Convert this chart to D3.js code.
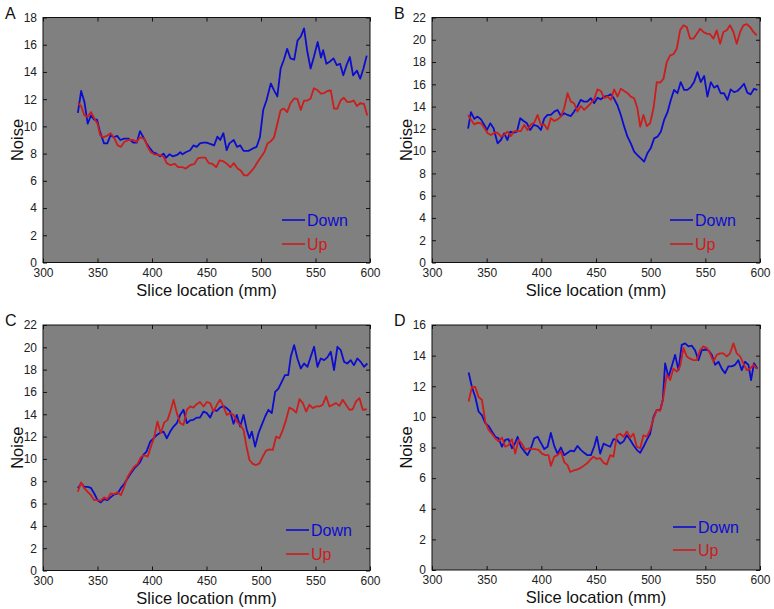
<!DOCTYPE html>
<html><head><meta charset="utf-8">
<script src="https://cdn.jsdelivr.net/npm/d3@7"></script>
<style>body{margin:0;background:#fff}svg{display:block}</style></head>
<body><svg id="c" width="774" height="609"></svg>
<script>
const aDown=[[332,11.0],[335,12.6],[338,11.8],[341,10.2],[344,10.8],[347,10.5],[349.5,10.5],[352,9.7],[354,9.2],[356,8.75],[359,8.75],[362,9.35],[365,9.2],[368,9.3],[371,9.0],[374.5,9.1],[378.5,9.1],[383,8.8],[386,8.8],[389,9.65],[392,9.2],[395,8.75],[398,8.4],[401,8.1],[404,8.0],[407.5,7.8],[410.5,8.0],[413,7.7],[416,7.95],[419,7.8],[423,7.9],[426,8.1],[428,7.95],[431,8.1],[435,8.25],[438,8.6],[441,8.5],[444,8.75],[447,8.8],[450,8.8],[454,8.7],[457,8.6],[460,9.25],[462.5,9.0],[465.5,9.5],[468.5,8.25],[471,8.75],[475,9.0],[478,8.5],[481,8.6],[484,8.2],[488.5,8.2],[493,8.4],[496,8.5],[499,9.2],[502,11.2],[505,11.9],[509,13.15],[512,12.65],[515,12.2],[518,14.25],[521,14.9],[524,15.7],[527,15.0],[530.5,14.9],[533.5,16.3],[536.5,16.6],[539.5,17.2],[542.5,15.5],[545.5,14.25],[548.5,15.1],[552,16.2],[555,15.05],[557,15.6],[560,14.6],[563,14.75],[566.5,15.0],[569.5,14.5],[572.5,14.6],[575.5,13.75],[578.5,14.5],[581.5,15.1],[584.5,13.75],[588,14.1],[591,13.5],[594,14.25],[597,15.2]];
const aUp=[[332,11.7],[335,11.5],[338,10.8],[341,10.7],[344,11.05],[347,10.6],[350,10.2],[352.5,9.35],[355,9.2],[358.5,9.3],[362,9.5],[365,9.2],[368.5,8.6],[371.5,8.5],[374.5,8.85],[378.5,9.0],[383,9.0],[386,8.85],[389,9.2],[393,9.1],[396,8.5],[399,8.1],[402,7.95],[406,7.9],[410.5,7.8],[413.5,7.3],[417,7.15],[421,7.25],[424,7.0],[428,7.0],[431,6.9],[435,7.15],[439,7.25],[442,7.65],[445,7.7],[449,7.7],[452,7.3],[455.5,7.25],[459,7.0],[462,7.5],[465,7.45],[468,7.3],[472,7.0],[475,7.3],[478.5,6.9],[481.5,6.75],[484.5,6.4],[487.5,6.4],[490.5,6.65],[494,7.0],[497,7.4],[500,7.75],[503,8.1],[506,8.75],[509,8.9],[512,9.2],[515,10.2],[518,11.2],[521,11.3],[524,11.05],[527,11.7],[530.5,12.05],[533.5,12.0],[536.5,11.2],[539.5,11.9],[542.5,11.9],[545.5,12.05],[548.5,12.8],[552,12.65],[555,12.4],[558,12.45],[561,12.6],[564,12.65],[567,11.3],[570,11.3],[573,11.9],[576,12.1],[579,11.8],[582,11.8],[585,11.9],[588,11.5],[591,11.7],[594.5,11.65],[597.5,10.8]];
const bDown=[[333,12.03],[335.6,13.5],[338.7,12.9],[341.7,13.1],[344.8,12.85],[347.8,12.35],[350.3,11.9],[353.3,12.5],[356.3,12.05],[360,10.7],[363,11.0],[366,11.6],[369,11.0],[371.6,11.75],[374.6,11.65],[377.7,11.75],[380.7,12.95],[383.8,12.7],[386.8,12.5],[389.9,11.9],[392.9,12.35],[396.6,12.25],[399.6,11.9],[402.7,12.95],[405.7,13.25],[408.7,13.25],[411.8,13.55],[414.8,13.7],[417.9,13.15],[420.9,13.4],[424,13.25],[427,13.15],[430,13.55],[433,14.0],[436,14.6],[439,14.45],[442,14.45],[445.3,14.75],[448.3,14.3],[451.4,14.8],[454.4,14.65],[457.5,14.9],[460.5,14.95],[463.6,15.1],[466.6,14.7],[469.7,14.1],[472.7,13.25],[475.8,12.2],[478.8,11.3],[481.8,10.7],[484.9,9.95],[487.9,9.65],[491,9.35],[494,9.05],[497,9.8],[500,10.25],[503.2,11.15],[506.2,11.3],[509.3,11.75],[512.3,12.8],[515.4,13.5],[518.4,14.6],[521.4,15.5],[524.5,15.2],[527.5,16.2],[530.6,15.5],[533.6,15.5],[536.7,15.75],[539.7,16.2],[542.8,17.1],[545.8,16.2],[548.9,16.75],[551.9,14.9],[555,16.2],[558,15.7],[561,15.9],[564,15.2],[567.1,15.2],[570.2,14.6],[573.2,15.55],[576.3,15.3],[579.3,15.4],[582.4,15.7],[585.4,16.05],[588.4,15.25],[591.5,15.1],[594.5,15.6],[597.6,15.5]];
const bUp=[[333,13.25],[335.6,12.85],[338.7,12.4],[341.7,12.55],[344.8,12.5],[347.8,12.1],[350.9,11.6],[353.9,11.45],[357,11.65],[360,11.65],[363,11.3],[366,11.45],[369,11.75],[372.2,11.35],[375.2,11.8],[378.3,11.8],[381.3,11.8],[384.4,12.35],[387.4,11.9],[390.5,12.4],[393.5,12.55],[396.6,13.25],[399.6,12.35],[402.7,12.4],[405.7,11.95],[408.7,12.95],[411.8,12.7],[414.8,12.85],[417.9,13.1],[420.9,13.85],[424,15.2],[427,14.45],[430,14.3],[433,13.55],[436.1,14.05],[439.2,13.7],[442.2,14.0],[445.3,14.3],[448.3,14.65],[451.4,15.55],[454.4,15.4],[457.5,14.75],[460.5,14.9],[463.6,14.6],[466.6,15.55],[469.7,14.9],[472.7,15.6],[475.8,15.4],[478.8,15.2],[481.8,14.9],[484.9,14.75],[487.9,13.85],[490.4,12.2],[493.4,13.25],[496.5,12.25],[499.5,12.5],[502.6,13.85],[505.6,16.2],[508.7,16.15],[511.7,16.5],[514.7,18.0],[517.8,18.6],[520.8,18.7],[523.9,19.2],[526.9,20.85],[530,21.3],[533,21.15],[536.1,20.1],[539.1,20.1],[542.2,20.55],[545.2,21.0],[548.2,20.7],[551.3,20.55],[554.3,20.5],[557.4,20.1],[560.4,20.85],[563.5,19.65],[566.5,20.7],[569.6,20.85],[572.6,21.3],[575.7,20.7],[578.7,19.65],[581.8,20.7],[584.8,21.3],[587.9,21.4],[590.9,21.15],[594,20.7],[597,20.4]];
const cDown=[[332,7.37],[335,7.8],[338,7.5],[341,7.5],[344,7.4],[347,6.9],[350,6.3],[353,6.1],[356,6.4],[359,6.3],[362,6.55],[365,6.8],[368.5,6.9],[371.5,7.4],[374.5,7.75],[377.5,8.25],[380.5,8.7],[383.7,9.15],[386.8,9.45],[389,9.7],[392,10.35],[395,10.65],[398.4,11.55],[401.4,11.85],[404.5,12.15],[407.5,12.35],[410.6,12.45],[413.6,11.85],[416.7,12.45],[419.8,12.9],[422.8,13.2],[425.9,13.95],[428.9,14.4],[432,13.2],[435,13.45],[438,13.5],[441,13.7],[444,13.7],[447.3,14.25],[450.3,14.1],[453.4,13.7],[456.4,14.4],[459.5,14.3],[462.5,14.6],[465.6,14.75],[468.6,14.55],[471.7,14.25],[474.8,13.15],[477.8,13.95],[480.9,12.9],[484,13.95],[487,12.6],[489.4,11.85],[491.6,12.45],[494.6,11.1],[497.7,12.3],[500.7,13.05],[503.8,13.8],[506.8,14.4],[509.9,14.1],[513,16.0],[516,16.3],[519,16.9],[522,17.5],[525,17.5],[527.3,19.15],[530.4,20.2],[533.4,19.0],[536.5,18.1],[539.5,18.55],[542.6,18.25],[545.6,19.15],[548.7,20.05],[551.8,18.25],[554.8,19.0],[557.9,18.85],[560.9,19.1],[564,19.6],[567,17.95],[570.1,20.05],[573.1,19.75],[576.2,18.7],[579.2,18.55],[582.3,18.85],[585.3,18.4],[588.4,19.0],[591.4,18.7],[594.5,18.25],[597.6,18.55]];
const cUp=[[332,7.05],[335,7.9],[338,7.35],[341,7.05],[344,6.75],[347,6.3],[350,6.3],[353,6.25],[356,6.55],[359,6.4],[362,6.9],[365,6.85],[368.5,7.0],[371.5,6.75],[374.5,7.5],[377.5,8.35],[380.5,8.85],[383.7,9.3],[386.8,9.55],[389.8,10.15],[392.9,10.35],[396,10.2],[399,11.1],[402,11.95],[405,13.35],[408,12.3],[411.2,13.25],[414.3,13.5],[417.3,14.4],[419.8,15.3],[422.8,14.1],[425.9,13.2],[428.9,13.05],[432,14.4],[435,14.7],[438,14.6],[441,14.9],[444,15.1],[447.3,14.7],[450.3,15.1],[453.4,15.0],[456.4,14.25],[459.5,14.85],[462.5,15.3],[465.6,14.7],[468.6,13.95],[471.7,14.1],[474.8,13.95],[477.8,13.35],[480.9,13.05],[484,12.6],[486.4,11.25],[489.4,9.9],[492.5,9.55],[495.5,9.45],[498.6,9.6],[501.6,10.2],[504.7,10.75],[507.8,10.85],[510.8,10.8],[513.9,12.0],[516.9,11.85],[520,12.6],[523,13.5],[526,14.6],[529,14.45],[532.3,14.15],[535.3,15.35],[538.4,15.0],[541.4,14.25],[544.4,14.85],[547.5,14.55],[550.5,14.7],[553.6,14.7],[556.6,14.85],[559.7,15.6],[562.8,14.7],[565.8,14.85],[568.9,15.0],[571.9,14.75],[575,15.3],[578,14.85],[581.1,14.4],[584.1,14.45],[587.2,15.15],[590.3,15.45],[593.3,14.4],[597,14.45]];
const dDown=[[333.5,12.9],[336.5,11.95],[339.6,11.3],[342.6,10.35],[345.7,10.1],[348.7,9.6],[351.8,9.4],[354.8,9.05],[357.9,8.7],[360.9,8.6],[364,8.05],[367,8.5],[370,8.55],[373.1,7.95],[376.1,8.3],[378.3,8.7],[381.3,8.05],[384.4,7.75],[387.4,7.5],[390.5,7.95],[393.5,8.6],[396.6,8.7],[399.6,8.3],[402.7,7.9],[405.7,8.05],[408.7,8.95],[411.8,8.1],[414.8,7.6],[417.9,8.0],[420.9,7.5],[424,7.65],[427,7.8],[430,7.75],[433,8.1],[436.1,7.85],[439.2,7.65],[442.2,7.5],[445.3,7.5],[448.3,8.05],[450.8,8.7],[453.8,7.6],[456.9,8.25],[459.9,8.15],[463,8.05],[466,8.55],[469.1,8.5],[472.1,8.25],[475.2,8.4],[478.2,8.8],[481.2,8.5],[484.3,8.15],[487.3,7.85],[490.4,7.65],[493.4,8.05],[496.5,8.5],[499.5,8.9],[502.6,10.0],[505.6,10.45],[508.7,10.45],[511.1,11.1],[513.2,13.5],[516.3,12.6],[519.3,13.3],[522.4,14.05],[525.4,13.05],[528.4,14.7],[531.5,14.8],[534.5,14.6],[537.6,14.65],[540.6,14.35],[543.7,13.7],[546.7,14.35],[549.8,14.4],[552.8,14.35],[555.9,14.05],[558.9,13.4],[562,13.6],[565,13.15],[568,12.85],[571.1,13.3],[574.1,13.3],[577.2,13.4],[580.2,13.7],[583.3,13.05],[586.3,13.6],[589.4,13.4],[591.8,12.4],[594.5,13.5],[597.6,13.15]];
const dUp=[[333.5,11.0],[336.5,11.95],[339.6,11.95],[342.6,11.3],[345.7,11.1],[348.7,9.7],[351.8,9.15],[354.8,8.9],[357.9,8.6],[360.9,8.4],[364,8.65],[367,8.05],[370,8.15],[373.1,8.55],[376.1,7.6],[379.2,8.5],[382.2,8.25],[385.3,7.85],[388.3,7.95],[391.4,7.9],[394.4,7.9],[397.5,7.85],[400.5,7.6],[403.6,7.5],[406.6,7.5],[408.7,6.8],[411.8,7.4],[414.8,7.5],[417.9,7.75],[420.9,7.05],[424,6.85],[426.4,6.4],[429.5,6.5],[432.5,6.55],[435.5,6.65],[438.6,6.8],[441.6,6.95],[444.7,7.2],[447.7,7.4],[450.8,7.25],[453.8,7.3],[456.9,7.0],[459.9,6.9],[463,7.5],[466,7.4],[469.1,8.8],[472.1,8.9],[475.2,8.7],[478.2,9.05],[481.2,8.65],[484.3,8.9],[487.3,8.05],[490.4,7.95],[493.4,8.8],[496.5,8.7],[499.5,9.15],[502.6,9.9],[505.6,10.45],[508.7,10.4],[511.7,11.3],[514.7,12.75],[517.8,12.4],[520.8,13.15],[523.9,12.95],[526.9,13.3],[530,14.5],[533,13.95],[536.1,13.8],[539.1,13.7],[542.2,13.7],[545.2,14.35],[548.2,14.6],[551.3,14.5],[554.3,14.15],[557.4,13.6],[560.4,14.05],[563.5,14.15],[566.5,14.15],[569.6,13.95],[572.6,14.15],[575.7,14.8],[578.7,14.15],[581.8,13.95],[584.8,13.5],[587.9,13.05],[590.9,13.15],[594,13.4],[597,13.15]];

const xTicks=[300,350,400,450,500,550,600];
const yTicksA=[0,2,4,6,8,10,12,14,16,18];
const yTicksB=[0,2,4,6,8,10,12,14,16,18,20,22];
const yTicksC=[0,2,4,6,8,10,12,14,16,18,20,22];
const yTicksD=[0,2,4,6,8,10,12,14,16];
const seriesNames=["Down","Up"];
const panelLabels=["A","B","C","D"];
const xLabel="Slice location (mm)";
const yLabel="Noise";

const colors={Down:"#0c0cd0",Up:"#cc1c1c"};
const font="'Liberation Sans', Arial, Helvetica, sans-serif";
const layout=[
 {l:43,t:17.5,r:370,b:262.5,leg:[282,220,244]},
 {l:432,t:17.5,r:760,b:262.5,leg:[670,220,244]},
 {l:43,t:325,r:370,b:570.5,leg:[286,530,554]},
 {l:432,t:325,r:760,b:570,leg:[673,527,550]}
];
const panels=[
 {label:panelLabels[0],series:[aDown,aUp],yTicks:yTicksA},
 {label:panelLabels[1],series:[bDown,bUp],yTicks:yTicksB},
 {label:panelLabels[2],series:[cDown,cUp],yTicks:yTicksC},
 {label:panelLabels[3],series:[dDown,dUp],yTicks:yTicksD}
];

const svg=d3.select("#c").style("font-family",font);
panels.forEach((p,i)=>{
  const L=layout[i];
  const x=d3.scaleLinear().domain([300,600]).range([L.l,L.r]);
  const y=d3.scaleLinear().domain([0,d3.max(p.yTicks)]).range([L.b,L.t]);
  const g=svg.append("g");
  g.append("rect").attr("x",L.l).attr("y",L.t).attr("width",L.r-L.l).attr("height",L.b-L.t).attr("fill","#808080");
  const ax=(sel)=>{sel.select(".domain").remove();sel.selectAll("line").attr("stroke","#111");sel.selectAll("text").attr("fill","#222").style("font-size","12px").style("font-family",font);};
  g.append("g").attr("transform",`translate(0,${L.b})`).call(d3.axisBottom(x).tickValues(xTicks).tickSize(-4).tickPadding(5.5).tickFormat(d3.format("d"))).call(ax);
  g.append("g").attr("transform",`translate(0,${L.t})`).call(d3.axisTop(x).tickValues(xTicks).tickSize(-4).tickFormat("")).call(ax);
  g.append("g").attr("transform",`translate(${L.l},0)`).call(d3.axisLeft(y).tickValues(p.yTicks).tickSize(-4).tickPadding(6).tickFormat(d3.format("d"))).call(ax);
  g.append("g").attr("transform",`translate(${L.r},0)`).call(d3.axisRight(y).tickValues(p.yTicks).tickSize(-4).tickFormat("")).call(ax);
  const line=d3.line().x(d=>x(d[0])).y(d=>y(d[1]));
  p.series.forEach((s,k)=>{
    g.append("path").datum(s).attr("d",line).attr("fill","none").attr("stroke",colors[seriesNames[k]]).attr("stroke-width",1.8).attr("stroke-linejoin","round");
  });
  g.append("rect").attr("x",L.l).attr("y",L.t).attr("width",L.r-L.l).attr("height",L.b-L.t).attr("fill","none").attr("stroke","#111").attr("stroke-width",1);
  seriesNames.forEach((n,k)=>{
    const ly=L.leg[1+k];
    g.append("line").attr("x1",L.leg[0]).attr("x2",L.leg[0]+23).attr("y1",ly).attr("y2",ly).attr("stroke",colors[n]).attr("stroke-width",1.6);
    g.append("text").attr("x",L.leg[0]+25).attr("y",ly+5.5).attr("fill",colors[n]).style("font-size","16px").text(n);
  });
  g.append("text").attr("x",(L.l+L.r)/2).attr("y",L.b+33).attr("text-anchor","middle").attr("fill","#111").style("font-size","16.5px").text(xLabel);
  g.append("text").attr("transform",`translate(${L.l-20},${(L.t+L.b)/2}) rotate(-90)`).attr("text-anchor","middle").attr("fill","#111").style("font-size","16.5px").text(yLabel);
  g.append("text").attr("x",L.l-38).attr("y",L.t+1).attr("fill","#111").style("font-size","16px").text(p.label);
});
</script></body></html>
